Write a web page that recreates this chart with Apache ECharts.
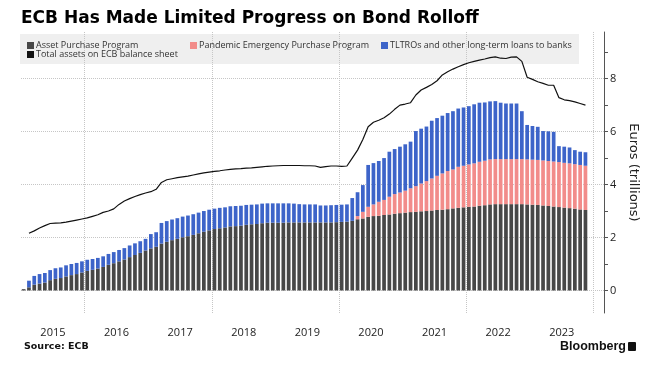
<!DOCTYPE html>
<html>
<head>
<meta charset="utf-8">
<title>ECB balance sheet</title>
<script src="https://cdn.jsdelivr.net/npm/echarts@6.0.0/dist/echarts.min.js"></script>
<style>
  html, body { margin: 0; padding: 0; background: #fff; }
  #chart { width: 661px; height: 375px; }
</style>
</head>
<body>
<div id="chart"></div>
<script>
// monthly values, Jan 2015 .. Nov 2023, trillions of euros
const app = [
  0.05, 0.12, 0.22, 0.26, 0.30, 0.39, 0.44, 0.47, 0.53, 0.58, 0.62, 0.68,
  0.74, 0.78, 0.83, 0.89, 0.97, 1.03, 1.10, 1.17, 1.26, 1.34, 1.42, 1.51,
  1.59, 1.65, 1.77, 1.84, 1.90, 1.95, 2.01, 2.05, 2.10, 2.16, 2.22, 2.27,
  2.32, 2.35, 2.38, 2.42, 2.43, 2.45, 2.48, 2.50, 2.51, 2.54, 2.56, 2.56,
  2.56, 2.56, 2.57, 2.57, 2.57, 2.57, 2.57, 2.57, 2.57, 2.57, 2.57, 2.58,
  2.59, 2.60, 2.63, 2.69, 2.72, 2.78, 2.81, 2.82, 2.85, 2.87, 2.90, 2.92,
  2.94, 2.96, 2.97, 2.99, 3.00, 3.02, 3.04, 3.05, 3.07, 3.10, 3.12, 3.14,
  3.16, 3.17, 3.20, 3.22, 3.25, 3.26, 3.26, 3.26, 3.26, 3.26, 3.26, 3.25,
  3.24, 3.23, 3.21, 3.19, 3.17, 3.15, 3.13, 3.11, 3.09, 3.06, 3.04
];
const pepp = [
  0, 0, 0, 0, 0, 0, 0, 0, 0, 0, 0, 0,
  0, 0, 0, 0, 0, 0, 0, 0, 0, 0, 0, 0,
  0, 0, 0, 0, 0, 0, 0, 0, 0, 0, 0, 0,
  0, 0, 0, 0, 0, 0, 0, 0, 0, 0, 0, 0,
  0, 0, 0, 0, 0, 0, 0, 0, 0, 0, 0, 0,
  0, 0, 0, 0.12, 0.25, 0.38, 0.44, 0.53, 0.57, 0.67, 0.74, 0.78,
  0.83, 0.90, 0.97, 1.05, 1.13, 1.21, 1.29, 1.37, 1.44, 1.47, 1.55, 1.57,
  1.60, 1.63, 1.66, 1.68, 1.70, 1.70, 1.70, 1.70, 1.70, 1.70, 1.70, 1.70,
  1.70, 1.70, 1.70, 1.70, 1.70, 1.70, 1.69, 1.69, 1.68, 1.68, 1.67
];
const ltro = [
  0, 0.25, 0.33, 0.36, 0.36, 0.38, 0.40, 0.40, 0.42, 0.42, 0.42, 0.42,
  0.42, 0.41, 0.40, 0.40, 0.41, 0.42, 0.43, 0.43, 0.44, 0.44, 0.44, 0.44,
  0.54, 0.55, 0.78, 0.78, 0.78, 0.78, 0.78, 0.78, 0.78, 0.78, 0.78, 0.78,
  0.77, 0.77, 0.76, 0.76, 0.76, 0.75, 0.75, 0.74, 0.74, 0.74, 0.73, 0.73,
  0.73, 0.73, 0.72, 0.71, 0.69, 0.68, 0.68, 0.68, 0.64, 0.64, 0.65, 0.65,
  0.65, 0.65, 0.86, 0.90, 1.01, 1.58, 1.56, 1.54, 1.58, 1.70, 1.70, 1.73,
  1.75, 1.76, 2.08, 2.07, 2.06, 2.18, 2.18, 2.18, 2.19, 2.20, 2.20, 2.20,
  2.20, 2.23, 2.23, 2.20, 2.19, 2.19, 2.13, 2.10, 2.10, 2.10, 1.81, 1.30,
  1.27, 1.25, 1.11, 1.12, 1.12, 0.60, 0.61, 0.60, 0.53, 0.50, 0.51
];
const totalAssets = [
  null, 2.16, 2.25, 2.36, 2.45, 2.53, 2.54, 2.55, 2.58, 2.62, 2.66, 2.70,
  2.74, 2.80, 2.86, 2.95, 3.00, 3.08, 3.25, 3.38, 3.47, 3.55, 3.62, 3.68,
  3.73, 3.82, 4.08, 4.18, 4.22, 4.26, 4.29, 4.32, 4.36, 4.40, 4.44, 4.47,
  4.50, 4.52, 4.55, 4.57, 4.59, 4.60, 4.62, 4.63, 4.65, 4.67, 4.69, 4.70,
  4.71, 4.72, 4.72, 4.72, 4.72, 4.71, 4.71, 4.70, 4.65, 4.68, 4.70, 4.70,
  4.69, 4.70, 5.00, 5.30, 5.70, 6.18, 6.35, 6.43, 6.52, 6.66, 6.84, 7.00,
  7.04, 7.09, 7.38, 7.57, 7.67, 7.78, 7.92, 8.14, 8.26, 8.36, 8.45, 8.53,
  8.60, 8.65, 8.70, 8.74, 8.79, 8.82, 8.77, 8.76, 8.81, 8.82, 8.65, 8.05,
  7.97, 7.88, 7.82, 7.75, 7.75, 7.28, 7.20, 7.17, 7.12, 7.06, 7.00
];

const yearLabels = ['2015', '2016', '2017', '2018', '2019', '2020', '2021', '2022', '2023'];
const yTicks = [0, 1, 2, 3, 4, 5, 6, 7, 8, 9];
const yLabels = [0, 2, 4, 6, 8];
const gridValues = [0, 2, 4, 6, 8];

// one category per month, plus Jan/Feb 2024 so the axis runs a bit past the data
const months = [];
yearLabels.forEach(y => {
  for (let m = 1; m <= 12; m++) months.push(y + '-' + String(m).padStart(2, '0'));
});
months.push('2024-01', '2024-02');

const FONT = 'DejaVu Sans';
const names = {
  app: 'Asset Purchase Program',
  pepp: 'Pandemic Emergency Purchase Program',
  ltro: 'TLTROs and other long-term loans to banks',
  total: 'Total assets on ECB balance sheet'
};

const legendBase = {
  orient: 'horizontal',
  padding: 0,
  icon: 'rect',
  itemWidth: 7,
  itemHeight: 7,
  itemGap: 0,
  selectedMode: false,
  textStyle: { fontFamily: 'Open Sans', fontSize: 9, color: '#333', padding: [0, 0, 0, -3] }
};

const myChart = echarts.init(document.getElementById('chart'), null, { renderer: 'canvas' });

const option = {
  animation: false,
  backgroundColor: '#fff',
  title: {
    text: 'ECB Has Made Limited Progress on Bond Rolloff',
    left: 21,
    top: 10,
    padding: 0,
    textStyle: { fontFamily: FONT, fontSize: 17, fontWeight: 'bold', color: '#000' }
  },
  legend: [
    Object.assign({}, legendBase, { data: [names.app], left: 27, top: 41 }),
    Object.assign({}, legendBase, { data: [names.pepp], left: 190, top: 41 }),
    Object.assign({}, legendBase, { data: [names.ltro], left: 381, top: 41 }),
    Object.assign({}, legendBase, { data: [names.total], left: 27, top: 50 })
  ],
  grid: { left: 21, right: 57, top: 32, bottom: 62 },
  xAxis: {
    type: 'category',
    data: months,
    boundaryGap: true,
    axisLine: { show: false },
    axisTick: { show: false },
    axisLabel: {
      interval: (i, v) => v.endsWith('-07'),
      formatter: v => yearLabels.includes(v.slice(0, 4)) ? v.slice(0, 4) : '',
      margin: 14,
      padding: [0, 5, 0, 0],
      fontFamily: 'Open Sans',
      fontSize: 11,
      color: '#222'
    },
    splitLine: {
      show: true,
      interval: (i, v) => v.endsWith('-01') && Number(v.slice(0, 4)) % 2 === 0,
      lineStyle: { type: 'dotted', color: '#c6c6c6', width: 1 }
    }
  },
  yAxis: {
    type: 'value',
    position: 'right',
    min: -0.85,
    max: 9.76,
    axisLine: { show: true, lineStyle: { color: '#555', width: 1 } },
    axisTick: { show: true, customValues: yTicks, length: 4, lineStyle: { color: '#555' } },
    axisLabel: { customValues: yLabels, margin: 6, fontFamily: 'Open Sans', fontSize: 11, color: '#222' },
    splitLine: { show: false },
    name: 'Euros (trillions)',
    nameLocation: 'middle',
    nameRotate: -90,
    nameGap: 23,
    nameTextStyle: { fontFamily: FONT, fontSize: 13, color: '#222' }
  },
  graphic: [
    {
      type: 'rect',
      z: -1,
      shape: { x: 20, y: 34, width: 559, height: 30 },
      style: { fill: '#efefef' }
    },
    {
      type: 'text',
      left: 24,
      top: 342,
      style: { text: 'Source: ECB', fontFamily: FONT, fontSize: 9.5, fontWeight: 'bold', fill: '#111' }
    },
    {
      type: 'text',
      left: 560,
      top: 340,
      style: { text: 'Bloomberg', fontFamily: 'Liberation Sans', fontSize: 12.5, fontWeight: 'bold', fill: '#111' }
    },
    {
      type: 'rect',
      shape: { x: 628, y: 342, width: 8, height: 9, r: 1 },
      style: { fill: '#111' }
    }
  ],
  series: [
    {
      name: names.app,
      type: 'bar',
      stack: 'assets',
      barWidth: '70%',
      itemStyle: { color: '#474747' },
      data: app,
      markLine: {
        silent: true,
        symbol: 'none',
        z: 1,
        label: { show: false },
        lineStyle: { type: 'dotted', color: '#c6c6c6', width: 1 },
        data: gridValues.map(v => ({ yAxis: v }))
      }
    },
    {
      name: names.pepp,
      type: 'bar',
      stack: 'assets',
      barWidth: '70%',
      itemStyle: { color: '#f28c8a' },
      data: pepp
    },
    {
      name: names.ltro,
      type: 'bar',
      stack: 'assets',
      barWidth: '70%',
      itemStyle: { color: '#3d64c9' },
      data: ltro
    },
    {
      name: names.total,
      type: 'line',
      z: 5,
      symbol: 'none',
      color: '#111',
      lineStyle: { color: '#111', width: 1.2 },
      data: totalAssets
    }
  ]
};

myChart.setOption(option);
</script>
</body>
</html>
